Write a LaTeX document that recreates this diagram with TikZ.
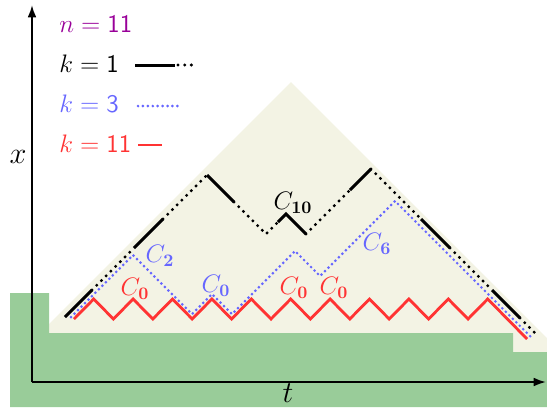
\documentclass[tikz,border=0pt]{standalone}
\usetikzlibrary{arrows.meta}

\definecolor{kpurple}{RGB}{153,0,153}
\definecolor{kblue}{RGB}{102,102,255}
\definecolor{kred}{RGB}{255,51,51}
\definecolor{beige}{RGB}{243,243,228}
\definecolor{lawn}{RGB}{153,204,153}

\begin{document}
\begin{tikzpicture}[
    x=0.02cm, y=-0.02cm, % one unit is one pixel of the sketch
    >={Latex[length=7pt,width=5pt]}, % Arrow tips of the axes
    axis/.style={->, line width=1.1pt}, % Style for t and x axes
    solidstep/.style={line width=1.7pt}, % Solid parts of k=1
    dotstep/.style={line width=1.9pt, line cap=round, dash pattern=on 0pt off 3.8pt}, % Dotted parts of k=1
    kthree/.style={kblue, line width=1.7pt, line cap=round, dash pattern=on 0pt off 2.8pt}, % Path k=3
    keleven/.style={kred, line width=1.6pt}, % Path k=11
    legendtext/.style={anchor=base west, inner sep=0pt, font=\fontsize{14.5}{17}\selectfont}, % Legend entries
    clabel/.style={font=\fontsize{14}{16}\selectfont}, % C_j labels
    axislabel/.style={inner sep=0pt, font=\fontsize{19}{22}\selectfont} % t, x labels
]
    \useasboundingbox (0,0) rectangle (547,407);

    % Light triangle and green ground
    \fill[beige] (291,82) -- (547,338) -- (547,356) -- (17,356) -- cycle;
    \fill[lawn] (10,293) -- (49,293) -- (49,333) -- (513,333) -- (513,352)
        -- (547,352) -- (547,407) -- (10,407) -- cycle;

    % Axes
    \coordinate (O) at (32,382);
    \draw[axis] (O) -- (32,5);
    \draw[axis] (O) -- (546,382);
    \node[axislabel] (xlab) at (18,157) {$x$};
    \node[axislabel] (tlab) at (288,393) {$t$};

    % Legend
    \node[legendtext, kpurple] (nlab) at (59,32) {$n = \mathsf{11}$};
    \node[legendtext] (k1) at (59,72) {$k = \mathsf{1}$};
    \node[legendtext, kblue] (k3) at (59,112) {$k = \mathsf{3}$};
    \node[legendtext, kred] (k11) at (59,152) {$k = \mathsf{11}$};
    \draw[solidstep] (135,65) -- (175,65);
    \draw[dotstep] (178,65) -- (198,65);
    \draw[kthree] (138,106) -- (180,106);
    \draw[keleven] (138,145) -- (162,145);

    % Path k=11 (red zigzag)
    \draw[keleven] (74,319) \foreach \i in {1,...,10} { -- ++(19.7,-20) -- ++(19.7,20) }
        -- ++(19.7,-20) -- ++(39.4,40);

    % Path k=3 (blue, dotted)
    \draw[kthree] (71,317) -- (133,255) -- (192,314) -- (212,294) -- (232,314)
        -- (295,251) -- (320,276) -- (395,201) -- (533,339);

    % Path k=1 (black, solid and dotted pieces)
    \coordinate (b0) at (65,317);
    \coordinate (b1) at (92,290);
    \coordinate (b2) at (134,248);
    \coordinate (b3) at (163,219);
    \coordinate (b4) at (207,175);
    \coordinate (b5) at (234,202);
    \coordinate (b6) at (266,234);
    \coordinate (b7) at (278,222);
    \coordinate (b8) at (286,214);
    \coordinate (b9) at (306,234);
    \coordinate (b10) at (350,190);
    \coordinate (b11) at (371,169);
    \coordinate (b12) at (421,219);
    \coordinate (b13) at (450,248);
    \coordinate (b14) at (492,290);
    \coordinate (b15) at (520,318);
    \coordinate (b16) at (537,335);
    \draw[solidstep] (b0) -- (b1) (b2) -- (b3) (b4) -- (b5) (b7) -- (b8) -- (b9)
        (b10) -- (b11) (b12) -- (b13) (b14) -- (b15);
    \draw[dotstep] (b1) -- (b2) (b3) -- (b4) (b5) -- (b6) -- (b7) (b9) -- (b10)
        (b11) -- (b12) (b13) -- (b14) (b15) -- (b16);

    % Labels of the pieces
    \node[clabel, kblue] (c2) at (160,256) {$C_{\mathbf{2}}$};
    \node[clabel, kred] (c0a) at (135,289) {$C_{\mathbf{0}}$};
    \node[clabel, kblue] (c0b) at (216,286) {$C_{\mathbf{0}}$};
    \node[clabel, kred] (c0c) at (294,288) {$C_{\mathbf{0}}$};
    \node[clabel, kred] (c0d) at (334,288) {$C_{\mathbf{0}}$};
    \node[clabel] (c10) at (293,203) {$C_{\mathbf{10}}$};
    \node[clabel, kblue] (c6) at (377,244) {$C_{\mathbf{6}}$};

\end{tikzpicture}
\end{document}
